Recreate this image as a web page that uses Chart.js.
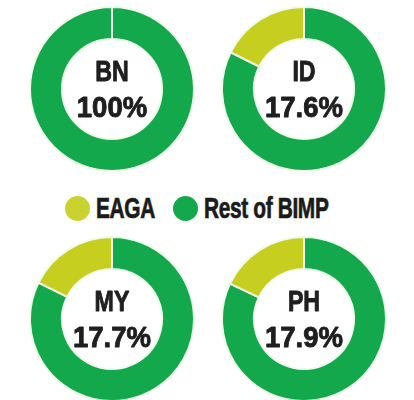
<!DOCTYPE html>
<html>
<head>
<meta charset="utf-8">
<script src="https://cdn.jsdelivr.net/npm/chart.js@4.4.1/dist/chart.umd.min.js"></script>
<style>
  html, body { margin: 0; padding: 0; background: #ffffff; }
  #wrap { position: relative; width: 414px; height: 400px; overflow: hidden; background: #fff; }
  .cell { position: absolute; width: 166px; height: 166px; }
  #legend { position: absolute; left: 0; top: 193px; width: 414px; height: 30px; }
  .li { position: absolute; top: 0; height: 30px; display: flex; align-items: center; }
  .dot { width: 25px; height: 25px; border-radius: 50%; flex: none; }
  .lt { font-family: "Liberation Sans", Arial, sans-serif; font-weight: bold; font-size: 29px; color: #1b1b1b;
        transform: scaleX(0.72); transform-origin: left center; white-space: nowrap; margin-left: 6px;
        letter-spacing: -0.5px; -webkit-text-stroke: 0.7px #1b1b1b; }
</style>
</head>
<body>
<div id="wrap">
  <div class="cell" style="left:29px; top:6px;"><canvas id="c0"></canvas></div>
  <div class="cell" style="left:221px; top:6px;"><canvas id="c1"></canvas></div>
  <div class="cell" style="left:29px; top:236px;"><canvas id="c2"></canvas></div>
  <div class="cell" style="left:221px; top:236px;"><canvas id="c3"></canvas></div>
  <div id="legend"></div>
</div>
<script>
// ---- data ----
const regions = ['BN', 'ID', 'MY', 'PH'];
const eagaShare = [0, 17.6, 17.7, 17.9];
const restShare = [100, 82.4, 82.3, 82.1];
const centerLabels = ['100%', '17.6%', '17.7%', '17.9%'];
const seriesNames = ['Rest of BIMP', 'EAGA'];
const seriesColors = ['#13a84b', '#c6cf1f'];
const legendOrder = ['EAGA', 'Rest of BIMP'];
const legendColors = ['#c8d32f', '#13a84b'];

const centerText = {
  id: 'centerText',
  afterDraw(chart, args, opts) {
    const meta = chart.getDatasetMeta(0);
    const arc = meta.data[0];
    if (!arc) return;
    const cx = arc.x, cy = arc.y;
    const ctx = chart.ctx;
    ctx.save();
    ctx.fillStyle = '#1f1f1f';
    ctx.strokeStyle = '#1f1f1f';
    ctx.lineWidth = 0.9;
    ctx.lineJoin = 'round';
    ctx.textAlign = 'center';
    ctx.textBaseline = 'alphabetic';
    ctx.font = 'bold 29px "Liberation Sans", Arial, sans-serif';
    const lines = opts.lines || [];
    const offs = [-8, 28];
    const sx = [0.8, 0.95];
    lines.forEach((t, i) => {
      ctx.save();
      ctx.translate(cx, cy + offs[i]);
      ctx.scale(sx[i], 1);
      ctx.fillText(t, 0, 0);
      ctx.strokeText(t, 0, 0);
      ctx.restore();
    });
    ctx.restore();
  }
};

regions.forEach((r, i) => {
  new Chart(document.getElementById('c' + i), {
    type: 'doughnut',
    data: {
      labels: seriesNames,
      datasets: [{
        data: [restShare[i], eagaShare[i]],
        backgroundColor: seriesColors,
        borderColor: '#effbea',
        borderWidth: 2,
        hoverOffset: 0
      }]
    },
    options: {
      responsive: true,
      maintainAspectRatio: false,
      animation: false,
      cutout: '61%',
      layout: { padding: 0 },
      events: [],
      plugins: {
        legend: { display: false },
        tooltip: { enabled: false },
        centerText: { lines: [r, centerLabels[i]] }
      }
    },
    plugins: [centerText]
  });
});

// legend built from the series arrays
const legend = document.getElementById('legend');
const legendX = [65, 173];
legendOrder.forEach((name, i) => {
  const li = document.createElement('div');
  li.className = 'li';
  li.style.left = legendX[i] + 'px';
  const dot = document.createElement('div');
  dot.className = 'dot';
  dot.style.background = legendColors[i];
  const t = document.createElement('span');
  t.className = 'lt';
  t.textContent = name;
  li.appendChild(dot);
  li.appendChild(t);
  legend.appendChild(li);
});
</script>
</body>
</html>
